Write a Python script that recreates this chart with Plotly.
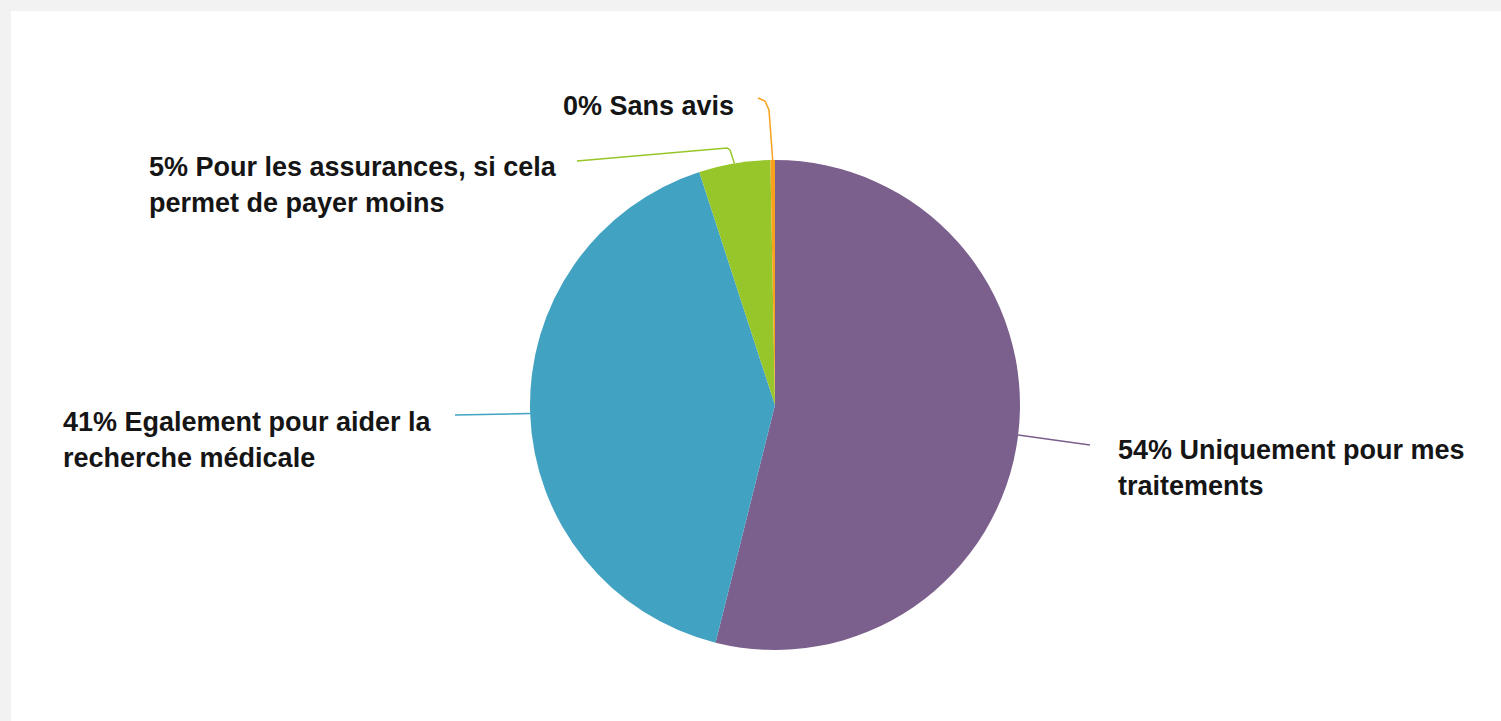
import math
import plotly.graph_objects as go

# ---- data ----
categories = [
    "Uniquement pour mes traitements",
    "Egalement pour aider la recherche médicale",
    "Pour les assurances, si cela permet de payer moins",
    "Sans avis",
]
values = [53.9, 41.1, 4.7, 0.3]
colors = ["#7b5f8c", "#41a2c2", "#96c629", "#f7a11c"]
label_lines = [
    ["Uniquement pour mes", "traitements"],
    ["Egalement pour aider la", "recherche médicale"],
    ["Pour les assurances, si cela", "permet de payer moins"],
    ["Sans avis"],
]

W, H = 1501, 721
CX, CY, R = 775, 405, 245  # pie centre / radius in pixels


def px(x):
    return x / W


def py(y):
    return 1 - y / H


fig = go.Figure()
fig.add_trace(go.Pie(
    labels=categories,
    values=values,
    sort=False,
    direction="clockwise",
    rotation=0,
    marker=dict(colors=colors, line=dict(width=0)),
    textinfo="none",
    hoverinfo="label+percent",
    showlegend=False,
    domain=dict(x=[px(CX - R), px(CX + R)], y=[py(CY + R), py(CY - R)]),
))

# mid-angle anchor points of each slice (computed from the data)
total = sum(values)
cum = 0
anchors = []
for v in values:
    mid = (cum + v / 2) / total * 2 * math.pi
    anchors.append((CX + R * math.sin(mid), CY - R * math.cos(mid)))
    cum += v

# label layout: (left x, [line centre y...]) and leader line path after the anchor
label_pos = [
    (1116, [450, 486]),
    (61, [422, 458]),
    (147, [167, 203]),
    (561, [106]),
]
leader_paths = [
    [(1090, 445)],
    [(455, 415)],
    [(730, 150), (727, 148), (577, 161)],
    [(769, 110), (765, 101), (758, 98)],
]

shapes = [
    dict(type="rect", xref="paper", yref="paper", x0=px(11), x1=1, y0=0, y1=py(11),
         fillcolor="white", line=dict(width=0), layer="below"),
]
for i, (ax, ay) in enumerate(anchors):
    pts = [(ax, ay)] + leader_paths[i]
    path = "M " + " L ".join(f"{px(x)},{py(y)}" for x, y in pts)
    shapes.append(dict(type="path", xref="paper", yref="paper", path=path,
                       line=dict(color=colors[i], width=1.5)))

annotations = []
for i, v in enumerate(values):
    pct = round(v / total * 100)
    x, ys = label_pos[i]
    lines = label_lines[i]
    for j, (line, y) in enumerate(zip(lines, ys)):
        text = f"{pct}% {line}" if j == 0 else line
        annotations.append(dict(
            x=px(x), y=py(y), xref="paper", yref="paper",
            xanchor="left", yanchor="middle", showarrow=False,
            text=f"<b>{text}</b>", align="left",
            font=dict(family="Liberation Sans, Arial, sans-serif", size=27, color="#151515"),
        ))

fig.update_layout(
    width=W, height=H,
    margin=dict(l=0, r=0, t=0, b=0),
    paper_bgcolor="#f2f2f2",
    plot_bgcolor="white",
    shapes=shapes,
    annotations=annotations,
)

fig.write_html(
    "out.html",
    config={"displayModeBar": False},
    post_script="document.body.style.margin='0';document.body.style.overflow='hidden';",
)
